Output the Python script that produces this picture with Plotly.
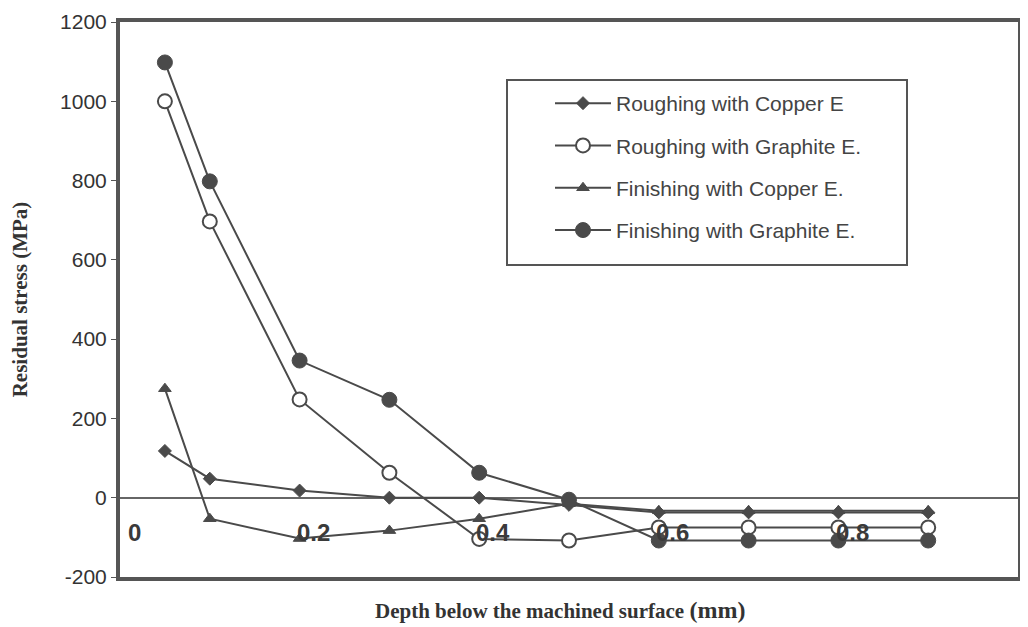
import plotly.graph_objects as go

# Data (depth in mm, residual stress in MPa)
depth = [0.05, 0.1, 0.2, 0.3, 0.4, 0.5, 0.6, 0.7, 0.8, 0.9]
roughing_copper = [118, 48, 18, 0, 0, -18, -37, -37, -37, -37]
roughing_graphite = [1000, 697, 248, 63, -104, -108, -75, -75, -75, -75]
finishing_copper = [275, -53, -103, -83, -53, -15, -33, -33, -33, -33]
finishing_graphite = [1098, 798, 346, 247, 63, -5, -108, -108, -108, -108]

names = ["Roughing with Copper E", "Roughing with Graphite E.",
         "Finishing with Copper E.", "Finishing with Graphite E."]

x_tick_vals = [0, 0.2, 0.4, 0.6, 0.8]
x_tick_text = ["0", "0.2", "0.4", "0.6", "0.8"]
y_tick_vals = [-200, 0, 200, 400, 600, 800, 1000, 1200]
y_tick_text = ["-200", "0", "200", "400", "600", "800", "1000", "1200"]

INK = "#4a4a4a"

styles = [
    dict(symbol="diamond", size=10, color=INK, line=dict(color=INK, width=1)),
    dict(symbol="circle", size=14, color="white", line=dict(color=INK, width=2)),
    dict(symbol="triangle-up", size=11, color=INK, line=dict(color=INK, width=1)),
    dict(symbol="circle", size=15, color=INK, line=dict(color=INK, width=1)),
]
series = [roughing_copper, roughing_graphite, finishing_copper, finishing_graphite]

fig = go.Figure()
for i, (nm, ys, st) in enumerate(zip(names, series, styles)):
    fig.add_trace(go.Scatter(
        x=depth, y=ys, name=nm, mode="lines+markers",
        line=dict(color=INK, width=2),
        marker=st, legendgroup=f"g{i}",
    ))

# x tick labels drawn inside the plot area, as in the original
for v, t in zip(x_tick_vals, x_tick_text):
    fig.add_annotation(x=v, y=-88, xref="x", yref="y", text=f"<b>{t}</b>", showarrow=False,
                       xshift=14, font=dict(family="Liberation Sans", size=24, color="#3a3a3a"),
                       xanchor="center", yanchor="middle")

# x axis title with larger "(mm)"
fig.add_annotation(x=0.49, y=-0.033, xref="paper", yref="paper",
                   text="<b>Depth below the machined surface <span style='font-size:24px'>(mm)</span></b>",
                   showarrow=False, yanchor="top",
                   font=dict(family="Liberation Serif", size=21, color="#333"))

# legend frame
fig.add_shape(type="rect", xref="paper", yref="paper",
              x0=(507 - 120) / 898, x1=(907 - 120) / 898,
              y0=(577 - 265) / 555, y1=(577 - 80) / 555,
              line=dict(color="#555", width=2), fillcolor="rgba(0,0,0,0)")

fig.update_layout(
    width=1020, height=619,
    margin=dict(l=112, r=10, t=14, b=50),
    paper_bgcolor="white", plot_bgcolor="white",
    showlegend=True,
    legend=dict(x=(550 - 120) / 898, y=(577 - 83) / 555, xanchor="left", yanchor="top",
                bgcolor="rgba(0,0,0,0)", borderwidth=0, itemwidth=56,
                tracegroupgap=12, traceorder="grouped",
                font=dict(family="Liberation Sans", size=21, color="#444")),
    xaxis=dict(range=[0, 1], showticklabels=False, ticks="", showgrid=False, automargin=False,
               zeroline=False, showline=True, mirror=True, linewidth=4, linecolor="#555"),
    yaxis=dict(range=[-200, 1200], tickvals=y_tick_vals, ticktext=y_tick_text, automargin=False,
               ticks="outside", ticklen=5, tickwidth=1, tickcolor="#555",
               showgrid=False, zeroline=True, zerolinecolor="#666", zerolinewidth=1.5,
               showline=True, mirror=True, linewidth=4, linecolor="#555",
               tickfont=dict(family="Liberation Sans", size=21, color="#333"),
               title=dict(text="<b>Residual stress (MPa)</b>", standoff=34,
                          font=dict(family="Liberation Serif", size=21, color="#333"))),
)

fig.write_html("out.html")
